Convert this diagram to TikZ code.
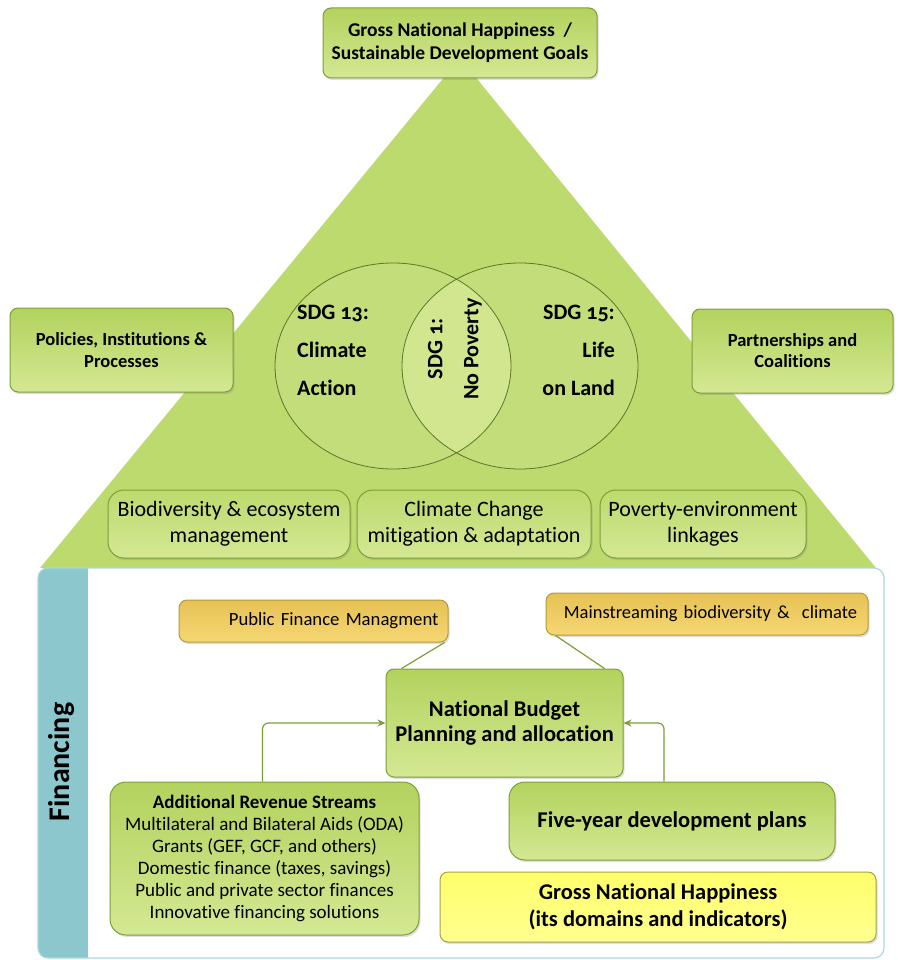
\documentclass[tikz,border=0pt]{standalone}
\usepackage{fontspec}
\setmainfont[Ligatures=NoCommon]{Carlito}
\newfontfamily\sdgfont[Numbers=OldStyle,Ligatures=NoCommon]{Carlito}
\usetikzlibrary{arrows.meta,shapes.geometric,shadows,calc}
\definecolor{leaf}{HTML}{BDDA6F}
\definecolor{leafhi}{HTML}{D4E893}
\definecolor{leaflo}{HTML}{B3D25E}
\definecolor{leafline}{HTML}{7E9E36}
\definecolor{gold}{HTML}{E6C255}
\definecolor{goldhi}{HTML}{F6D773}
\definecolor{goldline}{HTML}{B59A3A}
\definecolor{sun}{HTML}{FFFF6B}
\definecolor{sunline}{HTML}{A3A345}
\definecolor{band}{HTML}{8BC7CD}
\definecolor{bandline}{HTML}{A9D8DF}
\tikzset{
  gbox/.style={draw=leafline, line width=1pt, rounded corners=8pt, top color=leaflo, bottom color=leafhi, align=center, inner sep=0pt, drop shadow={shadow xshift=1.5pt, shadow yshift=-2pt, opacity=0.25}},
  pbox/.style={gbox, rounded corners=16pt, top color=leaf, bottom color=leafhi, font=\fontsize{22}{26}\selectfont},
  obox/.style={gbox, draw=goldline, top color=gold, bottom color=goldhi},
  ybox/.style={gbox, draw=sunline, top color=sun, bottom color=sun!75!white},
  venn/.style={draw=leafline!75!black, line width=0.8pt, ellipse, inner sep=0pt, minimum width=236, minimum height=206},
  venntxt/.style={inner sep=0pt, font=\sdgfont\bfseries\fontsize{22}{38}\selectfont},
  arr/.style={-{Stealth[length=8pt,width=7pt]}, draw=leafline, line width=1.2pt, rounded corners=6pt},
  lnk/.style={draw=leafline, line width=1.2pt},
}

\begin{document}
\begin{tikzpicture}[x=1pt, y=-1pt]
\useasboundingbox (0,0) rectangle (897,960);

% Pyramid
\fill[leaf] (460,58) -- (876,568) -- (40,568) -- cycle;

% Venn
\fill[leaf!92!white] (393,366) ellipse [x radius=118pt, y radius=103pt];
\fill[leaf!92!white] (520,366) ellipse [x radius=118pt, y radius=103pt];
\begin{scope}
  \clip (393,366) ellipse [x radius=118pt, y radius=103pt];
  \fill[leafhi!85!leaf] (520,366) ellipse [x radius=118pt, y radius=103pt];
\end{scope}
\node[venn] (sdg13) at (393,366) {};
\node[venn] (sdg15) at (520,366) {};
\node[venntxt, anchor=west, align=left] (t13) at (297,350) {SDG 13:\\Climate\\Action};
\node[venntxt, anchor=east, align=right] (t15) at (615,350) {SDG 15:\\Life\\on Land};
\node[venntxt, rotate=90, align=center, font=\sdgfont\bfseries\fontsize{22}{36}\selectfont] (t1) at (455,349) {SDG 1:\\No Poverty};

% Top and sides
\node[gbox, minimum width=274, minimum height=70, font=\bfseries\fontsize{19.5}{23}\selectfont] (gnhsdg) at (460,43)
  {Gross National Happiness~~/\\Sustainable Development Goals};
\node[gbox, minimum width=223, minimum height=84, font=\bfseries\fontsize{18.5}{22}\selectfont] (pip) at (121.5,350)
  {Policies, Institutions \&\\Processes};
\node[gbox, minimum width=201, minimum height=84, font=\bfseries\fontsize{18.5}{21}\selectfont] (pc) at (792.5,351)
  {Partnerships and\\Coalitions};

% Pyramid base
\node[pbox, minimum width=242, minimum height=68] (bio) at (229,524) {Biodiversity \& ecosystem\\management};
\node[pbox, minimum width=234, minimum height=68] (cc) at (474,524) {Climate Change\\mitigation \& adaptation};
\node[pbox, minimum width=206, minimum height=68] (pe) at (703,524) {Poverty-environment\\linkages};

% Financing panel
\begin{scope}
  \clip[rounded corners=10pt] (38,568) rectangle (884,958);
  \fill[white] (38,568) rectangle (884,958);
  \fill[band] (38,568) rectangle (88,958);
\end{scope}
\draw[bandline, line width=1.2pt, rounded corners=10pt] (38,568) rectangle (884,958);
\node[rotate=90, font=\bfseries\fontsize{30}{34}\selectfont] (fin) at (62,762) {Financing};

\node[obox, minimum width=269, minimum height=42, text width=250, align=right, font=\fontsize{18.7}{22}\selectfont] (pfm) at (313.5,621)
  {Public Finance Managment};
\node[obox, minimum width=322, minimum height=42, text width=300, align=right, font=\fontsize{18.5}{22}\selectfont] (mbc) at (707,614)
  {Mainstreaming biodiversity \&~~climate};
\node[gbox, minimum width=237, minimum height=108, font=\bfseries\fontsize{22.5}{25}\selectfont] (nb) at (504.5,723)
  {National Budget\\Planning and allocation};
\node[gbox, rounded corners=16pt, minimum width=309, minimum height=153, font=\fontsize{19}{22}\selectfont] (ars) at (264.5,858.5)
  {\textbf{Additional Revenue Streams}\\Multilateral and Bilateral Aids (ODA)\\Grants (GEF, GCF, and others)\\Domestic finance (taxes, savings)\\Public and private sector finances\\Innovative financing solutions};
\node[gbox, rounded corners=16pt, minimum width=326, minimum height=78, font=\bfseries\fontsize{22.5}{25}\selectfont] (fyp) at (672,821)
  {Five-year development plans};
\node[ybox, minimum width=436, minimum height=70, font=\bfseries\fontsize{22.5}{27}\selectfont] (gnhi) at (658,907)
  {Gross National Happiness\\(its domains and indicators)};

% Links
\draw[lnk] ([xshift=-4pt]pfm.south east) -- ([xshift=16pt]nb.north west);
\draw[lnk] ([xshift=10pt]mbc.south west) -- ([xshift=-19pt]nb.north east);
\draw[arr] ([xshift=-2pt]ars.north) |- (nb.west);
\draw[arr] ([xshift=-8pt]fyp.north) |- (nb.east);

\end{tikzpicture}
\end{document}
